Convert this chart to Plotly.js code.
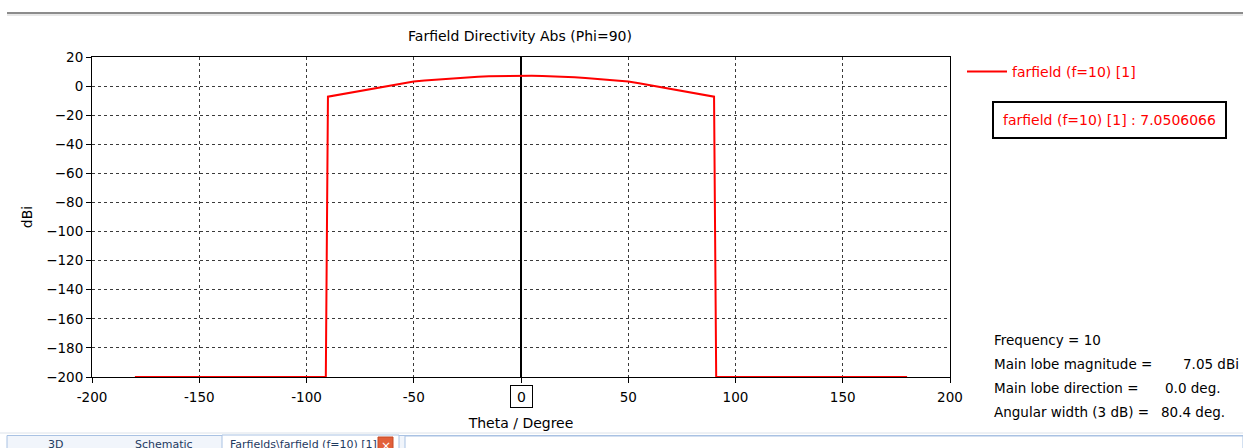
<!DOCTYPE html>
<html>
<head>
<meta charset="utf-8">
<script src="https://cdn.plot.ly/plotly-3.0.1.min.js"></script>
<style>
  html, body { margin: 0; padding: 0; background: #ffffff; }
  #chart { width: 1243px; height: 448px; }
</style>
</head>
<body>
<div id="chart"></div>
<script>
// ---- data ----
const seriesName = 'farfield (f=10) [1]';
const theta = [-180, -91, -90, -85, -80, -75, -70, -65, -60, -55, -50, -45, -40, -35, -30, -25, -20, -15, -10, -5,
               0, 5, 10, 15, 20, 25, 30, 35, 40, 45, 50, 55, 60, 65, 70, 75, 80, 85, 90, 91, 180];
const directivity = [-200, -200, -7.3, -6.0, -4.7, -3.3, -2.0, -0.7, 0.6, 2.0, 3.2, 3.9, 4.5, 5.1, 5.6, 6.1, 6.5, 6.8, 6.95, 7.03,
               7.05, 7.03, 6.95, 6.8, 6.5, 6.1, 5.6, 5.1, 4.5, 3.9, 3.2, 2.0, 0.6, -0.7, -2.0, -3.3, -4.7, -6.0, -7.3, -200, -200];
const xTickVals = [-200, -150, -100, -50, 0, 50, 100, 150, 200];
const xTickText = ['-200', '-150', '-100', '-50', '', '50', '100', '150', '200'];
const yTickVals = [20, 0, -20, -40, -60, -80, -100, -120, -140, -160, -180, -200];
const markerLabel = '0';
const markerValue = '7.0506066';
const statsLabels = ['Frequency = 10', 'Main lobe magnitude =', 'Main lobe direction =', 'Angular width (3 dB) ='];
const statsValues = ['', '7.05 dBi', '0.0 deg.', '80.4 deg.'];
const tabLabels = ['3D', 'Schematic', 'Farfields\\farfield (f=10) [1]'];

// ---- layout geometry (pixels of the 1243x448 page) ----
const W = 1243, H = 448;
const M = { l: 92, r: 293, t: 57, b: 71 };
const PW = W - M.l - M.r, PH = H - M.t - M.b;
const px = v => (v - M.l) / PW;          // page x -> paper x
const py = v => (H - M.b - v) / PH;      // page y -> paper y

const FONT = 'DejaVu Sans, Verdana, sans-serif';
const RED = '#ff0000';

const trace = {
  type: 'scatter', mode: 'lines', name: seriesName,
  x: theta, y: directivity,
  line: { color: RED, width: 2 },
  hoverinfo: 'x+y'
};

const shapes = [
  // top window separator line
  { type: 'line', xref: 'paper', yref: 'paper', x0: px(7), x1: px(1243), y0: py(13), y1: py(13),
    line: { color: '#8c8c8c', width: 2 } },
  { type: 'line', xref: 'paper', yref: 'paper', x0: px(7), x1: px(1243), y0: py(15), y1: py(15),
    line: { color: '#d0d0d0', width: 1 } },
  // tab bar
  { type: 'line', xref: 'paper', yref: 'paper', x0: px(0), x1: px(1243), y0: py(433), y1: py(433),
    line: { color: '#dde3ea', width: 1 } },
  { type: 'rect', xref: 'paper', yref: 'paper', x0: px(7), x1: px(1243), y0: py(435.5), y1: py(449),
    fillcolor: '#f1f5fb', line: { color: '#a9c2e3', width: 1 } },
  { type: 'rect', xref: 'paper', yref: 'paper', x0: px(222), x1: px(399), y0: py(435), y1: py(449),
    fillcolor: '#ffffff', line: { color: '#a9c2e3', width: 1 } },
  { type: 'rect', xref: 'paper', yref: 'paper', x0: px(405), x1: px(1243), y0: py(436), y1: py(449),
    fillcolor: '#ffffff', line: { color: '#a9c2e3', width: 1 } },
  { type: 'rect', xref: 'paper', yref: 'paper', x0: px(378), x1: px(393), y0: py(437), y1: py(449),
    fillcolor: '#e2603a', line: { color: '#c44a26', width: 1 } }
];

const annotations = [
  // boxed zero marker under the x axis
  { xref: 'x', yref: 'paper', x: 0, y: py(396.5), text: markerLabel, showarrow: false,
    xanchor: 'center', yanchor: 'middle',
    font: { family: FONT, size: 14, color: '#000' }, bordercolor: '#000', borderwidth: 1, borderpad: 2,
    bgcolor: '#fff', width: 17, height: 17 },
  // value box
  { xref: 'paper', yref: 'paper', x: px(1109.5), y: py(120), text: seriesName + ' : ' + markerValue,
    showarrow: false, font: { family: FONT, size: 14, color: RED }, bordercolor: '#000', borderwidth: 2,
    borderpad: 9, bgcolor: '#fff', xanchor: 'center', yanchor: 'middle' }
];
const statY = [340, 364, 388, 412];
const valX = [0, 1181, 1163, 1159];
statsLabels.forEach((t, i) => {
  annotations.push({ xref: 'paper', yref: 'paper', x: px(992), y: py(statY[i]), text: t, showarrow: false,
    xanchor: 'left', yanchor: 'middle', font: { family: FONT, size: 13.5, color: '#000' } });
  if (statsValues[i]) {
    annotations.push({ xref: 'paper', yref: 'paper', x: px(valX[i]), y: py(statY[i]), text: statsValues[i], showarrow: false,
      xanchor: 'left', yanchor: 'middle', font: { family: FONT, size: 13.5, color: '#000' } });
  }
});
// tab labels
const tabX = [55, 164, 303];
tabLabels.forEach((t, i) => {
  annotations.push({ xref: 'paper', yref: 'paper', x: px(tabX[i]), y: py(435.5), text: t, showarrow: false,
    xanchor: 'center', yanchor: 'top', font: { family: FONT, size: 11, color: '#1e3a5f' } });
});
annotations.push({ xref: 'paper', yref: 'paper', x: px(385.5), y: py(437), text: '×', showarrow: false,
  xanchor: 'center', yanchor: 'top', font: { family: FONT, size: 12, color: '#fff' } });

const layout = {
  width: W, height: H,
  margin: M,
  paper_bgcolor: '#ffffff', plot_bgcolor: '#ffffff',
  font: { family: FONT, size: 13, color: '#000' },
  title: { text: 'Farfield Directivity Abs (Phi=90)', font: { family: FONT, size: 14, color: '#000' },
           xref: 'paper', x: px(520), xanchor: 'center', yref: 'container', y: 1 - 36 / H, yanchor: 'middle' },
  showlegend: true,
  legend: { x: px(962), y: py(56), xanchor: 'left', yanchor: 'top', bgcolor: 'rgba(0,0,0,0)',
            font: { family: FONT, size: 14, color: RED }, itemwidth: 40 },
  xaxis: {
    range: [-200, 200], tickvals: xTickVals, ticktext: xTickText,
    showline: true, linecolor: '#000', linewidth: 1, mirror: true,
    ticks: 'outside', ticklen: 5, tickcolor: '#000', tickwidth: 1, ticklabelstandoff: 3,
    showgrid: true, gridcolor: '#3a3a3a', griddash: '3px,3px', gridwidth: 1,
    zeroline: true, zerolinecolor: '#000', zerolinewidth: 2,
    tickfont: { family: FONT, size: 13.5, color: '#000' },
    title: { text: 'Theta / Degree', font: { family: FONT, size: 14, color: '#000' }, standoff: 13 },
    fixedrange: true
  },
  yaxis: {
    range: [-200, 20], tickvals: yTickVals,
    showline: true, linecolor: '#000', linewidth: 1, mirror: true,
    ticks: 'outside', ticklen: 5, tickcolor: '#000', tickwidth: 1,
    showgrid: true, gridcolor: '#3a3a3a', griddash: '3px,3px', gridwidth: 1,
    zeroline: false,
    tickfont: { family: FONT, size: 13.5, color: '#000' },
    title: { text: 'dBi', font: { family: FONT, size: 14, color: '#000' }, standoff: 10 },
    fixedrange: true
  },
  shapes: shapes,
  annotations: annotations
};

Plotly.newPlot('chart', [trace], layout, { displayModeBar: false, staticPlot: true });
</script>
</body>
</html>
